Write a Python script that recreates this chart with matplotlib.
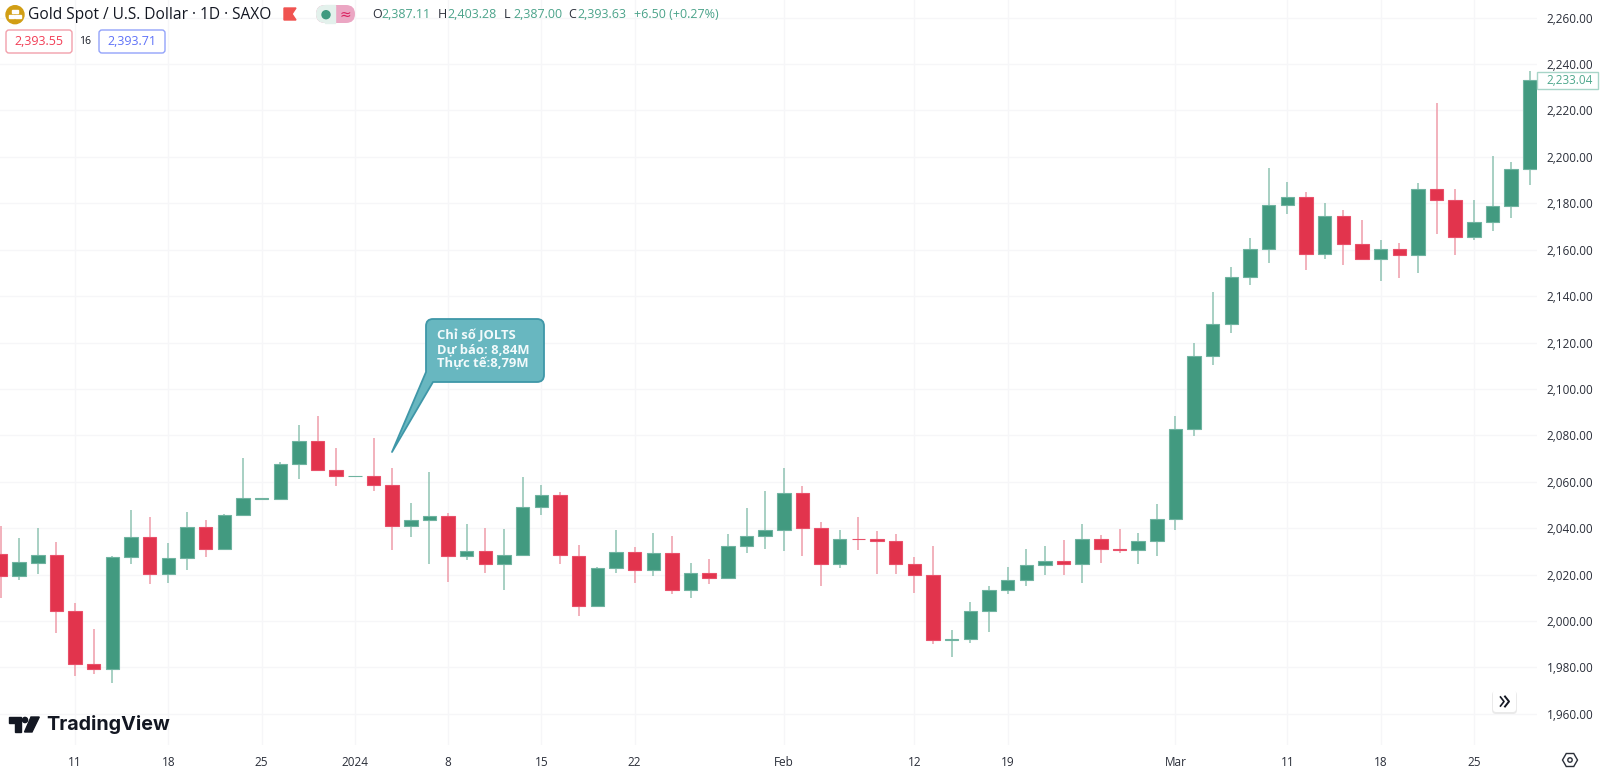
import matplotlib
matplotlib.use('Agg')
import matplotlib.pyplot as plt
from matplotlib.patches import Circle, FancyBboxPatch, PathPatch, Polygon, Rectangle
from matplotlib.path import Path
import numpy as np

plt.rcParams['font.family'] = ['Open Sans', 'DejaVu Sans']

#----------------------------------------------------
# Daily candles
#----------------------------------------------------
opens = [2028.9, 2019.3, 2025.2, 2028.5, 2004.5, 1981.7, 1979.4, 2027.4, 2036.4, 2020.1,
         2027.1, 2040.4, 2031.2, 2045.7, 2052.7, 2052.7, 2067.8, 2077.6, 2065.1, 2062.4,
         2062.5, 2058.8, 2041.1, 2043.4, 2045.4, 2027.9, 2030.2, 2024.5, 2028.5, 2049.0,
         2054.5, 2028.2, 2006.5, 2022.9, 2029.6, 2021.8, 2029.1, 2013.5, 2020.8, 2018.5,
         2032.5, 2036.8, 2039.3, 2055.3, 2039.9, 2024.7, 2035.5, 2035.2, 2034.4, 2024.6,
         2020.0, 1991.7, 1992.2, 2004.3, 2013.2, 2017.8, 2024.3, 2026.0, 2024.6, 2035.5,
         2031.2, 2030.5, 2034.4, 2043.9, 2082.6, 2114.4, 2127.9, 2148.2, 2160.1, 2179.2,
         2182.8, 2158.2, 2174.5, 2162.4, 2155.9, 2160.3, 2157.7, 2186.1, 2181.4, 2165.3,
         2171.9, 2178.9, 2194.9]
highs = [2041.1, 2035.8, 2040.1, 2034.1, 2007.9, 1996.7, 2028.2, 2047.8, 2044.8, 2033.6,
         2046.8, 2043.5, 2046.1, 2070.4, 2052.9, 2068.7, 2084.4, 2088.3, 2074.7, 2062.6,
         2078.7, 2065.8, 2051.0, 2064.0, 2046.5, 2041.8, 2040.1, 2039.8, 2062.1, 2058.7,
         2055.4, 2032.8, 2023.2, 2039.2, 2031.9, 2037.9, 2036.7, 2025.1, 2026.8, 2037.5,
         2048.7, 2056.1, 2065.8, 2058.0, 2042.6, 2039.1, 2044.9, 2038.8, 2037.3, 2027.5,
         2032.5, 1996.1, 2008.2, 2015.3, 2023.2, 2031.1, 2032.5, 2035.1, 2041.7, 2037.0,
         2039.7, 2038.1, 2050.6, 2088.2, 2120.0, 2141.8, 2152.5, 2165.1, 2195.3, 2189.3,
         2184.8, 2180.1, 2177.2, 2172.9, 2164.0, 2163.0, 2188.9, 2223.3, 2186.1, 2181.5,
         2200.5, 2197.9, 2236.8]
lows = [2010.0, 2017.5, 2020.3, 1994.9, 1976.3, 1977.3, 1973.4, 2024.5, 2015.8, 2016.2,
        2021.8, 2027.5, 2031.2, 2045.7, 2052.7, 2052.7, 2061.4, 2064.7, 2058.1, 2062.4,
        2056.1, 2030.6, 2036.4, 2024.6, 2016.9, 2026.5, 2020.6, 2013.5, 2028.5, 2045.8,
        2024.4, 2002.0, 2006.0, 2020.6, 2016.6, 2019.6, 2011.5, 2010.0, 2016.0, 2018.5,
        2029.2, 2031.1, 2030.2, 2028.2, 2015.3, 2023.0, 2030.8, 2020.4, 2020.4, 2012.2,
        1990.2, 1984.3, 1990.4, 1995.3, 2011.8, 2015.3, 2020.0, 2019.7, 2016.4, 2025.2,
        2029.1, 2024.7, 2028.2, 2039.3, 2079.6, 2110.5, 2123.9, 2144.6, 2154.2, 2175.2,
        2151.1, 2156.1, 2153.2, 2155.7, 2146.5, 2147.6, 2149.9, 2166.6, 2157.5, 2164.1,
        2168.0, 2173.8, 2187.7]
closes = [2019.3, 2025.4, 2028.6, 2004.5, 1981.7, 1979.4, 2027.4, 2036.4, 2020.1, 2027.1,
          2040.4, 2031.2, 2045.7, 2052.8, 2052.9, 2067.8, 2077.6, 2065.1, 2062.5, 2062.6,
          2058.8, 2041.1, 2043.4, 2045.4, 2027.9, 2030.2, 2024.5, 2028.5, 2049.0, 2054.5,
          2028.4, 2006.5, 2022.9, 2029.6, 2021.8, 2029.1, 2013.5, 2020.8, 2018.5, 2032.5,
          2036.8, 2039.3, 2055.3, 2039.9, 2024.7, 2035.5, 2035.2, 2034.4, 2024.6, 2020.0,
          1991.7, 1992.2, 2004.3, 2013.2, 2017.8, 2024.3, 2026.0, 2024.6, 2035.5, 2031.2,
          2030.5, 2034.4, 2043.9, 2082.6, 2114.4, 2127.9, 2148.2, 2160.1, 2179.2, 2182.8,
          2158.2, 2174.5, 2162.4, 2155.9, 2160.3, 2157.7, 2186.1, 2181.4, 2165.3, 2171.9,
          2178.9, 2194.9, 2233.2]

# date labels sit on these candles
date_ticks = [4, 9, 14, 19, 24, 29, 34, 42, 49, 54, 63, 69, 74, 79]
date_labels = ['11', '18', '25', '2024', '8', '15', '22', 'Feb', '12', '19', 'Mar', '11', '18', '25']
price_ticks = [1960, 1980, 2000, 2020, 2040, 2060, 2080, 2100, 2120, 2140, 2160, 2180, 2200, 2220, 2240, 2260]
last_price = 2233.04

#----------------------------------------------------
# Figure and price axes
#----------------------------------------------------
W, H = 1600, 768
PANE_R, PANE_B = 1537, 745
GREEN, RED = '#429a80', '#e2344d'
GRID = '#f6f6f8'
AXTXT = '#2a2e39'

fig = plt.figure(figsize=(W / 100, H / 100), dpi=100, facecolor='white')
ax = fig.add_axes([0, 1 - PANE_B / H, PANE_R / W, PANE_B / H])

step = 18.65
ax.set_xlim(-0.5 / step, (PANE_R - 0.5) / step)
ax.set_ylim(2240 - (PANE_B - 64) / 2.321, 2240 + 64 / 2.321)

for i in range(len(opens)):
    up = closes[i] >= opens[i]
    ax.vlines(i, lows[i], highs[i], color='#8fc3b3' if up else '#ef9daa', lw=1.1, zorder=2)
    ax.bar(i, abs(closes[i] - opens[i]), bottom=min(opens[i], closes[i]), width=0.72,
           color=GREEN if up else RED, edgecolor='#6fb3a0' if up else '#e9506a', lw=0.8, zorder=3)

ax.set_xticks(date_ticks)
ax.set_xticklabels(date_labels, fontsize=8.5, color=AXTXT)
ax.set_yticks(price_ticks)
ax.set_yticklabels(['{:,.2f}'.format(p) for p in price_ticks], fontsize=8.5, color=AXTXT)
ax.yaxis.tick_right()
ax.tick_params(axis='both', length=0)
ax.tick_params(axis='y', pad=7)
ax.tick_params(axis='x', pad=8)
ax.grid(True, color=GRID, lw=1)
ax.set_axisbelow(True)
for s in ax.spines.values():
    s.set_visible(False)

#----------------------------------------------------
# Overlay in pixel coordinates for header, callout, logo
#----------------------------------------------------
ov = fig.add_axes([0, 0, 1, 1], facecolor='none')
ov.set_xlim(0, W)
ov.set_ylim(H, 0)
ov.axis('off')

# symbol icon
ov.add_patch(Circle((15, 14.7), 9, color='#d19e14'))
for bx, by in [(12.2, 10), (8.8, 14.6), (15.4, 14.6)]:
    ov.add_patch(Rectangle((bx, by), 5.6, 3.2, color='white'))

ov.text(28, 15, 'Gold Spot / U.S. Dollar · 1D · SAXO', fontsize=11.2, color='#131722', va='center')

# red flag
ov.add_patch(Polygon([(284, 8), (296, 8), (292, 14), (296, 20), (284, 20)], color='#f05350'))

# status pill
ov.add_patch(FancyBboxPatch((316, 5), 39, 18, boxstyle='round,pad=0,rounding_size=9', fc='#eba6c3', ec='none'))
ov.add_patch(FancyBboxPatch((316, 5), 19, 18, boxstyle='round,pad=0,rounding_size=9', fc='#e3f1ec', ec='none'))
ov.add_patch(Rectangle((325, 5), 10, 18, color='#e3f1ec'))
ov.add_patch(Circle((326, 14.7), 4, color='#3f9a80'))
ov.text(345, 14.5, '≈', fontsize=10, color='#d9215f', ha='center', va='center', family='DejaVu Sans')

# OHLC legend
for lx, vx, lab, val in [(372, 381, 'O', '2,387.11'), (438, 447, 'H', '2,403.28'),
                         (504, 513, 'L', '2,387.00'), (568, 577, 'C', '2,393.63')]:
    ov.text(lx, 14.5, lab, fontsize=9, color='#2a2e39', va='center')
    ov.text(vx, 14.5, val, fontsize=9, color='#4ba38a', va='center')
ov.text(634, 14.5, '+6.50 (+0.27%)', fontsize=9, color='#4ba38a', va='center')

# bid / ask boxes
ov.add_patch(FancyBboxPatch((6, 30), 66, 23, boxstyle='round,pad=0,rounding_size=3', fc='white', ec='#f2a0ab', lw=1))
ov.text(39, 41.5, '2,393.55', fontsize=9, color='#f23d55', ha='center', va='center')
ov.text(85, 42, '16', fontsize=7.5, color='#131722', ha='center', va='center')
ov.add_patch(FancyBboxPatch((99, 30), 66, 23, boxstyle='round,pad=0,rounding_size=3', fc='white', ec='#93a3fa', lw=1))
ov.text(132, 41.5, '2,393.71', fontsize=9, color='#5f72f8', ha='center', va='center')

# callout with tail as one outline
x0, x1, y0, y1, r = 426, 544, 319, 382, 7
verts = [(x0 + r, y0), (x1 - r, y0), (x1, y0), (x1, y0 + r), (x1, y1 - r), (x1, y1), (x1 - r, y1),
         (433, y1), (392, 452), (x0, 372), (x0, y0 + r), (x0, y0), (x0 + r, y0), (x0 + r, y0)]
codes = [Path.MOVETO, Path.LINETO, Path.CURVE3, Path.CURVE3, Path.LINETO, Path.CURVE3, Path.CURVE3,
         Path.LINETO, Path.LINETO, Path.LINETO, Path.LINETO, Path.CURVE3, Path.CURVE3, Path.CLOSEPOLY]
ov.add_patch(PathPatch(Path(verts, codes), fc='#68b7c0', ec='#3f97a8', lw=1.3, joinstyle='round'))
for ty, line in [(336, 'Chỉ số JOLTS'), (350, 'Dự báo: 8,84M'), (364, 'Thực tế:8,79M')]:
    ov.text(437, ty, line, fontsize=9.4, color='#f2fafb', va='center', weight='bold')

# last price tag
ov.add_patch(Rectangle((1537, 72), 61, 17, fc='white', ec='#a8d5c8', lw=1))
ov.text(1593, 80.5, '{:,.2f}'.format(last_price), fontsize=8.5, color='#4fa88d', ha='right', va='center')

# scroll button
ov.add_patch(FancyBboxPatch((1492, 691), 25, 23, boxstyle='round,pad=0,rounding_size=4', fc='#e2e2e2', ec='none', alpha=0.7))
ov.add_patch(FancyBboxPatch((1493, 690), 23, 22, boxstyle='round,pad=0,rounding_size=3', fc='white', ec='none'))
ov.plot([1500.5, 1504, 1500.5], [697, 701.5, 706], color='#131722', lw=1.2)
ov.plot([1505, 1509, 1505], [696.5, 701.5, 706.5], color='#131722', lw=1.4)

# settings gear
ang = np.deg2rad(np.arange(0, 360, 60))
ov.add_patch(Polygon(np.c_[1570 + 7.5 * np.cos(ang), 760 + 7.5 * np.sin(ang)], fc='none', ec='#2a2e39', lw=1))
ov.add_patch(Circle((1570, 760), 2.2, fc='none', ec='#2a2e39', lw=1))

# logo
LOGO = '#131722'
ov.add_patch(Polygon([(9.3, 717), (20.7, 717), (20.7, 732), (15, 732), (15, 722.5), (9.3, 722.5)], color=LOGO))
ov.add_patch(Circle((25, 720), 2.6, color=LOGO))
ov.add_patch(Polygon([(31, 717), (39.3, 717), (32, 732), (24.5, 732)], color=LOGO))
ov.text(46.5, 724.5, 'TradingView', fontsize=14.2, color=LOGO, va='center', family='Inter', weight='bold')

fig.savefig('out.png', dpi=100)
